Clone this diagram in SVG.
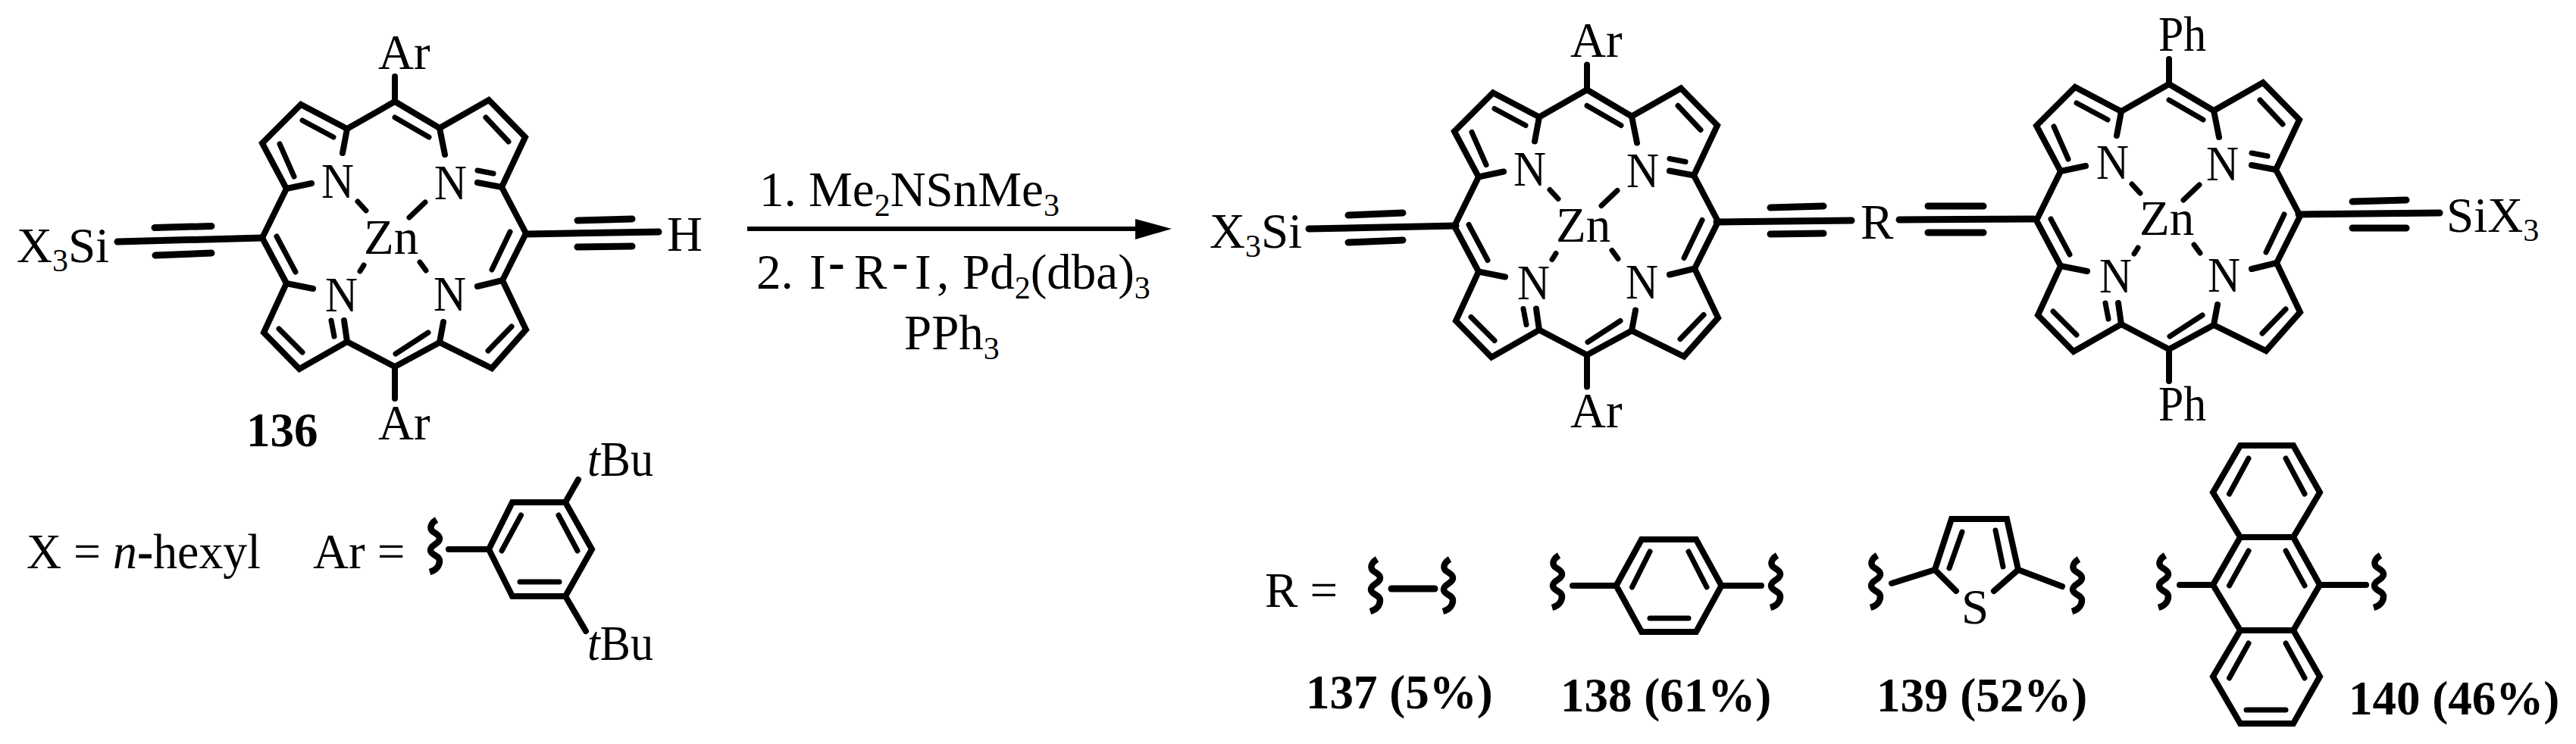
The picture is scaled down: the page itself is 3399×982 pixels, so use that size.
<svg xmlns="http://www.w3.org/2000/svg" xmlns:xlink="http://www.w3.org/1999/xlink" width="3399" height="982" viewBox="0 0 3399 982">
<style>
.t{font-family:"Liberation Serif","Times New Roman",serif;font-size:65px;fill:#000}
.b{font-weight:bold;font-size:63px}
.i{font-style:italic}
.s{font-size:42px}
.o{fill:none;stroke:#000;stroke-width:8;stroke-linejoin:miter;stroke-linecap:round}
.l{fill:none;stroke:#000;stroke-width:7;stroke-linecap:round}
.tr{fill:none;stroke:#000;stroke-width:9;stroke-linecap:round}
.w{fill:none;stroke:#000;stroke-width:8.500}
</style>
<defs>
<path id="sq" class="w" d="M2 0C-3 3-7 8-5 13C-3 18 6 18 6 25C6 32-6 33-6 40C-6 47 6 47 6 54C6 62 0 67-7 69"/>
<g id="porph">
<path class="o" d="M346 314L378 249L346 189L397 138L458 170L521 134L580 169L645 132L693 181L662 247L694 308L663 370L694 435L649 486L580 452L521 484L458 451L395 487L348 439L378 374Z"/>
<path class="o" d="M521 134V101M521 484V526M458 170L452 202M580 169L587 204M378 249L411 242M378 374L413 381M663 370L630 378M662 247L630 241M458 451L454 423M580 452L585 425"/>
<path class="l" d="M399 159L440 181M369 190L388 233M521 155L566 181M641 155L671 187M630 225L651 229M437 423L441 444M365 312L390 359M673 306L649 356M368 434L399 465M522 467L565 439M675 431L644 463"/>
<path class="l" d="M472 266L483 278M561 267L540 287M480 350L475 358M554 346L562 357"/>
</g>
</defs>
<rect width="3399" height="982" fill="#fff"/>
<g id="compound-136">
<use href="#porph"/>
<path class="tr" d="M346 314L155 319M204 300.500L279 298.500M205 337L279 334M694 309L869 306M762 291L834 289M762 326L834 325"/>
<text class="t" x="424" y="261" textLength="43" lengthAdjust="spacingAndGlyphs">N</text><text class="t" x="573" y="263" textLength="43" lengthAdjust="spacingAndGlyphs">N</text><text class="t" x="429" y="411" textLength="43" lengthAdjust="spacingAndGlyphs">N</text><text class="t" x="572" y="410" textLength="43" lengthAdjust="spacingAndGlyphs">N</text>
<text class="t" x="480" y="335">Zn</text>
<text class="t" x="499" y="91">Ar</text><text class="t" x="499" y="580">Ar</text>
<text class="t" x="22" y="346">X<tspan class="s" dy="12">3</tspan><tspan dy="-12">Si</tspan></text>
<text class="t" x="880" y="331">H</text>
<text class="t b" x="325" y="589">136</text>
</g>
<g id="legend-x"><text class="t" x="35" y="750" textLength="309" lengthAdjust="spacingAndGlyphs">X = <tspan class="i">n</tspan><tspan font-weight="bold">-</tspan>hexyl</text></g>
<g id="legend-ar">
<text class="t" x="413" y="750">Ar =</text>
<use href="#sq" x="574" y="686"/>
<path class="o" d="M592 725H645M645 725L676 663H746L781 725L746 787H676ZM746 663L763 633M746 787L773 833"/>
<path class="l" d="M687.500 680L662 727M737 680L762 727M686 768H738"/>
<text class="t" x="775" y="628" textLength="87" lengthAdjust="spacingAndGlyphs"><tspan class="i">t</tspan>Bu</text>
<text class="t" x="775" y="871" textLength="87" lengthAdjust="spacingAndGlyphs"><tspan class="i">t</tspan>Bu</text>
</g>
<g id="connectors">
<path d="M986 302H1505" fill="none" stroke="#000" stroke-width="6"/>
<path d="M1546 302L1498 316V289Z" fill="#000"/>
</g>
<g id="conditions">
<text class="t" x="1002" y="272">1. Me<tspan class="s" dy="13">2</tspan><tspan dy="-13">NSnMe</tspan><tspan class="s" dy="13">3</tspan></text>
<text class="t" x="998" y="381">2. <tspan x="1068">I</tspan><tspan x="1093" dy="-13" font-weight="bold">-</tspan><tspan x="1127" dy="13">R</tspan><tspan x="1177" dy="-13" font-weight="bold">-</tspan><tspan x="1207" dy="13">I</tspan><tspan x="1236">,</tspan> <tspan x="1270">Pd</tspan><tspan class="s" dy="13">2</tspan><tspan dy="-13">(dba)</tspan><tspan class="s" dy="13">3</tspan></text>
<text class="t" x="1193" y="461">PPh<tspan class="s" dy="13">3</tspan></text>
</g>
<g id="product">
<use href="#porph" x="1573" y="-15.500"/>
<use href="#porph" x="2341" y="-23"/>
<path class="tr" d="M1921 298L1727 302M1779 284L1851 281M1779 320L1851 317M2265 293L2443 291M2336 274L2406 272M2336 309L2406 308M2506 290L2683 289M2544 272H2617M2544 307H2617M3033 283L3219 281M3104 266L3175 264M3104 301H3175"/>
<text class="t" x="1997" y="245" textLength="43" lengthAdjust="spacingAndGlyphs">N</text><text class="t" x="2146" y="247" textLength="43" lengthAdjust="spacingAndGlyphs">N</text><text class="t" x="2002" y="395" textLength="43" lengthAdjust="spacingAndGlyphs">N</text><text class="t" x="2145" y="394" textLength="43" lengthAdjust="spacingAndGlyphs">N</text>
<text class="t" x="2053" y="319">Zn</text>
<text class="t" x="2072" y="75">Ar</text><text class="t" x="2072" y="564">Ar</text>
<text class="t" x="1596" y="327">X<tspan class="s" dy="12">3</tspan><tspan dy="-12">Si</tspan></text>
<text class="t" x="2455" y="315">R</text>
<text class="t" x="2766" y="236" textLength="43" lengthAdjust="spacingAndGlyphs">N</text><text class="t" x="2911" y="238" textLength="43" lengthAdjust="spacingAndGlyphs">N</text><text class="t" x="2770" y="386" textLength="43" lengthAdjust="spacingAndGlyphs">N</text><text class="t" x="2913" y="385" textLength="43" lengthAdjust="spacingAndGlyphs">N</text>
<text class="t" x="2823" y="310">Zn</text>
<text class="t" x="2848" y="67" textLength="63" lengthAdjust="spacingAndGlyphs">Ph</text><text class="t" x="2848" y="555" textLength="63" lengthAdjust="spacingAndGlyphs">Ph</text>
<text class="t" x="3228" y="306">SiX<tspan class="s" dy="12">3</tspan></text>
</g>
<g id="r-label"><text class="t" x="1669" y="801">R =</text></g>
<g id="r-137">
<use href="#sq" x="1815" y="738"/><use href="#sq" x="1911" y="738"/>
<path class="tr" d="M1836 777H1893"/>
<text class="t b" x="1723" y="935">137 (5%)</text>
</g>
<g id="r-138">
<use href="#sq" x="2055" y="733"/><use href="#sq" x="2343" y="733"/>
<path class="o" d="M2075 773H2132.500M2271.500 773H2324M2132.500 773L2166 712H2238L2271.500 773L2238 834H2166Z"/>
<path class="l" d="M2177 728L2153.500 775M2228 728L2252 775M2177 816H2228"/>
<text class="t b" x="2059" y="939">138 (61%)</text>
</g>
<g id="r-139">
<use href="#sq" x="2475" y="733"/><use href="#sq" x="2741" y="738"/>
<path class="o" d="M2496 770L2553 752M2581 780L2553 752L2575 685H2648L2663 752L2631 780M2663 752L2721 774"/>
<path class="l" d="M2589 702L2572 750M2633 700L2643 748"/>
<text class="t" x="2606" y="823" text-anchor="middle">S</text>
<text class="t b" x="2476" y="939">139 (52%)</text>
</g>
<g id="r-140">
<use href="#sq" x="2855" y="733"/><use href="#sq" x="3139" y="733"/>
<path class="o" d="M2956 588H3026L3061 650L3026 709L3061 772L3026 832L3061 893L3026 955H2956L2920 893L2956 832L2920 772L2956 709L2920 650ZM2956 709H3026M2956 832H3026M2920 772H2876M3061 772H3122"/>
<path class="l" d="M2967 605L2941.500 652M3016 605L3041 652M2967 727L2941.500 773M3016 727L3041 773M2967 849L2941.500 895M3016 849L3041 895M2964 937H3016"/>
<text class="t b" x="3099" y="943">140 (46%)</text>
</g>
</svg>
